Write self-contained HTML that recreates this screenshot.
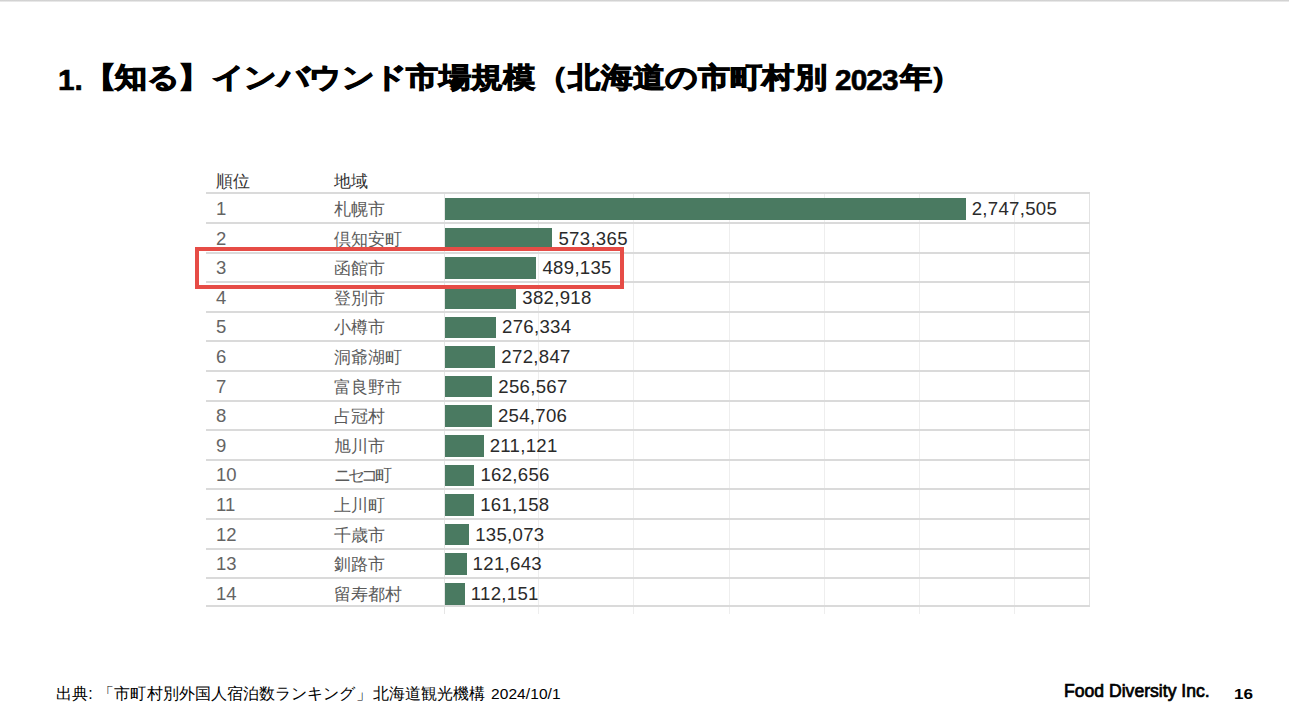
<!DOCTYPE html>
<html lang="ja"><head><meta charset="utf-8">
<style>
html,body{margin:0;padding:0;background:#fff;}
body{width:1289px;height:727px;position:relative;overflow:hidden;font-family:"Liberation Sans",sans-serif;}
.topline{position:absolute;left:0;top:0;width:1289px;height:2px;background:linear-gradient(#c8c8c8,#f2f2f2);}
.title{position:absolute;left:0;top:57px;width:1289px;height:40px;color:#000;white-space:nowrap;}
.tc{position:absolute;top:0.8px;font-size:32.37px;line-height:40px;font-weight:bold;-webkit-text-stroke:1.2px #000;transform:scaleY(0.87);transform-origin:50% 48%;}
.tl{position:absolute;top:3px;font-size:29.8px;line-height:40px;font-weight:bold;-webkit-text-stroke:0.6px #000;}
.hdr{position:absolute;top:168.5px;font-size:17.4px;color:#333;line-height:24px;white-space:nowrap;}
.hl{position:absolute;left:206px;width:884px;height:2px;background:#dadada;}
.vl{position:absolute;width:1px;background:#eeeeee;}
.rank{position:absolute;left:216px;font-size:18.5px;color:#646464;line-height:22px;white-space:nowrap;}
.name{position:absolute;left:334px;font-size:17.4px;color:#5a5a5a;line-height:22px;white-space:nowrap;}
.bar{position:absolute;left:444.5px;height:21.6px;background:#4a7a61;}
.val{position:absolute;font-size:18.6px;letter-spacing:0.3px;color:#2a2a2a;line-height:22px;white-space:nowrap;}
.red{position:absolute;box-sizing:border-box;left:195px;top:246.8px;width:429px;height:42.7px;border:4.1px solid #e64c46;}
.foot{position:absolute;left:56px;top:683px;font-size:16px;letter-spacing:0.08px;color:#000;line-height:22px;white-space:nowrap;}
.fdi{position:absolute;left:1064px;top:680px;font-size:17.6px;letter-spacing:0px;font-weight:normal;-webkit-text-stroke:0.7px #000;color:#000;line-height:22px;white-space:nowrap;}
.pg{position:absolute;left:1234px;top:684px;font-size:15px;letter-spacing:0;transform:scaleX(1.14);transform-origin:0 50%;font-weight:bold;color:#000;line-height:20px;}
</style></head><body>
<div class="topline"></div>
<div class="title"><span class="tl" style="left:58px">1.</span><span class="tc" style="left:83.98px">【</span><span class="tc" style="left:115.00px">知</span><span class="tc" style="left:147.37px">る</span><span class="tc" style="left:178.19px">】</span><span class="tc" style="left:212.11px">イ</span><span class="tc" style="left:244.48px">ン</span><span class="tc" style="left:276.85px">バ</span><span class="tc" style="left:309.22px">ウ</span><span class="tc" style="left:341.59px">ン</span><span class="tc" style="left:373.96px">ド</span><span class="tc" style="left:406.33px">市</span><span class="tc" style="left:438.70px">場</span><span class="tc" style="left:471.07px">規</span><span class="tc" style="left:503.44px">模</span><span class="tc" style="left:536.01px">（</span><span class="tc" style="left:568.18px">北</span><span class="tc" style="left:600.55px">海</span><span class="tc" style="left:632.92px">道</span><span class="tc" style="left:665.29px">の</span><span class="tc" style="left:697.66px">市</span><span class="tc" style="left:730.03px">町</span><span class="tc" style="left:762.40px">村</span><span class="tc" style="left:794.77px">別</span><span class="tl" style="left:835px;letter-spacing:-0.9px">2023</span><span class="tc" style="left:899.75px">年</span><span class="tc" style="left:930.25px">）</span></div>
<div class="hdr" style="left:216px">順位</div>
<div class="hdr" style="left:334px">地域</div>
<div class="vl" style="left:538.20px;top:193px;height:421px"></div>
<div class="vl" style="left:633.40px;top:193px;height:421px"></div>
<div class="vl" style="left:728.60px;top:193px;height:421px"></div>
<div class="vl" style="left:823.80px;top:193px;height:421px"></div>
<div class="vl" style="left:919.00px;top:193px;height:421px"></div>
<div class="vl" style="left:1014.20px;top:193px;height:421px"></div>
<div class="vl" style="left:443.6px;top:193px;height:421px;background:#e6e6e6"></div>
<div class="vl" style="left:1089.2px;top:193px;height:414px;background:#e2e2e2;width:1.2px"></div>
<div class="hl" style="top:192px"></div>
<div class="hl" style="top:222px"></div>
<div class="hl" style="top:252px"></div>
<div class="hl" style="top:281px"></div>
<div class="hl" style="top:311px"></div>
<div class="hl" style="top:340px"></div>
<div class="hl" style="top:370px"></div>
<div class="hl" style="top:400px"></div>
<div class="hl" style="top:429px"></div>
<div class="hl" style="top:459px"></div>
<div class="hl" style="top:488px"></div>
<div class="hl" style="top:518px"></div>
<div class="hl" style="top:548px"></div>
<div class="hl" style="top:577px"></div>
<div class="hl" style="top:605px"></div>
<div class="bar" style="top:198.20px;width:521.19px"></div>
<div class="rank" style="top:198.00px">1</div>
<div class="name" style="top:198.00px">札幌市</div>
<div class="val" style="left:971.69px;top:198.00px">2,747,505</div>
<div class="bar" style="top:227.80px;width:107.97px"></div>
<div class="rank" style="top:227.60px">2</div>
<div class="name" style="top:227.60px">倶知安町</div>
<div class="val" style="left:558.47px;top:227.60px">573,365</div>
<div class="bar" style="top:257.40px;width:91.96px"></div>
<div class="rank" style="top:257.20px">3</div>
<div class="name" style="top:257.20px">函館市</div>
<div class="val" style="left:542.46px;top:257.20px">489,135</div>
<div class="bar" style="top:287.00px;width:71.78px"></div>
<div class="rank" style="top:286.80px">4</div>
<div class="name" style="top:286.80px">登別市</div>
<div class="val" style="left:522.28px;top:286.80px">382,918</div>
<div class="bar" style="top:316.60px;width:51.52px"></div>
<div class="rank" style="top:316.40px">5</div>
<div class="name" style="top:316.40px">小樽市</div>
<div class="val" style="left:502.02px;top:316.40px">276,334</div>
<div class="bar" style="top:346.20px;width:50.86px"></div>
<div class="rank" style="top:346.00px">6</div>
<div class="name" style="top:346.00px">洞爺湖町</div>
<div class="val" style="left:501.36px;top:346.00px">272,847</div>
<div class="bar" style="top:375.80px;width:47.76px"></div>
<div class="rank" style="top:375.60px">7</div>
<div class="name" style="top:375.60px">富良野市</div>
<div class="val" style="left:498.26px;top:375.60px">256,567</div>
<div class="bar" style="top:405.40px;width:47.41px"></div>
<div class="rank" style="top:405.20px">8</div>
<div class="name" style="top:405.20px">占冠村</div>
<div class="val" style="left:497.91px;top:405.20px">254,706</div>
<div class="bar" style="top:435.00px;width:39.13px"></div>
<div class="rank" style="top:434.80px">9</div>
<div class="name" style="top:434.80px">旭川市</div>
<div class="val" style="left:489.63px;top:434.80px">211,121</div>
<div class="bar" style="top:464.60px;width:29.91px"></div>
<div class="rank" style="top:464.40px">10</div>
<div class="name" style="top:464.40px"><span style="letter-spacing:-3.4px">ニセ</span><span style="letter-spacing:-3.2px">コ</span>町</div>
<div class="val" style="left:480.41px;top:464.40px">162,656</div>
<div class="bar" style="top:494.20px;width:29.63px"></div>
<div class="rank" style="top:494.00px">11</div>
<div class="name" style="top:494.00px">上川町</div>
<div class="val" style="left:480.13px;top:494.00px">161,158</div>
<div class="bar" style="top:523.80px;width:24.67px"></div>
<div class="rank" style="top:523.60px">12</div>
<div class="name" style="top:523.60px">千歳市</div>
<div class="val" style="left:475.17px;top:523.60px">135,073</div>
<div class="bar" style="top:553.40px;width:22.12px"></div>
<div class="rank" style="top:553.20px">13</div>
<div class="name" style="top:553.20px">釧路市</div>
<div class="val" style="left:472.62px;top:553.20px">121,643</div>
<div class="bar" style="top:583.00px;width:20.32px"></div>
<div class="rank" style="top:582.80px">14</div>
<div class="name" style="top:582.80px">留寿都村</div>
<div class="val" style="left:470.82px;top:582.80px">112,151</div>
<div class="red"></div>
<div class="foot" style="left:56px">出典:</div><div class="foot" style="left:98.3px">「市町村別外国人宿泊数ランキング」</div><div class="foot" style="left:373px">北海道観光機構</div><div class="foot" style="left:491px;font-size:15.5px">2024/10/1</div>
<div class="fdi">Food Diversity Inc.</div>
<div class="pg">16</div>
</body></html>
